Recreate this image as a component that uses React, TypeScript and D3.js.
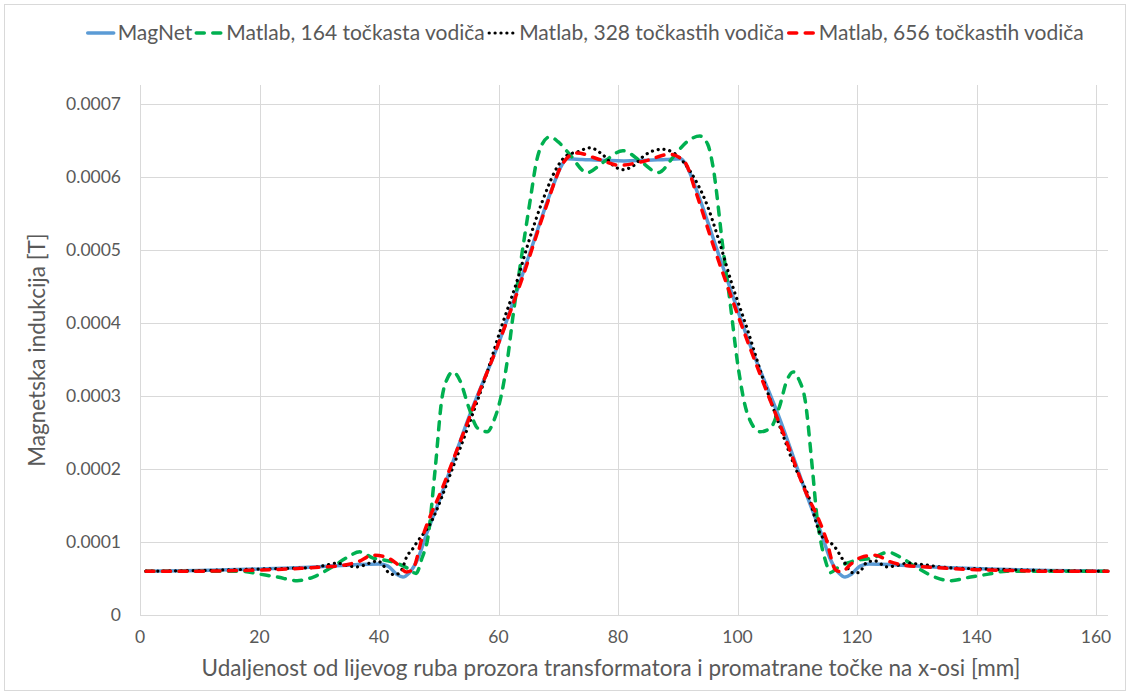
import { useMemo } from 'react'
import * as d3 from 'd3'

// chart values (y in tesla)
const xTicks = [0, 20, 40, 60, 80, 100, 120, 140, 160]
const yTicks = [0, 0.0001, 0.0002, 0.0003, 0.0004, 0.0005, 0.0006, 0.0007]
const yTickLabels = ['0', '0.0001', '0.0002', '0.0003', '0.0004', '0.0005', '0.0006', '0.0007']

const magnetX = [1, 10, 20, 30, 36, 40, 41.5, 43, 44, 45, 46.5, 48, 50, 55, 60, 65, 69, 70.5, 71.5, 74, 81, 88, 90.5, 91.5, 93, 97, 102, 107, 112, 114, 115.5, 117, 118, 119, 120.5, 122, 126, 132, 142, 152, 162]
const magnetY = [0.6, 0.61, 0.63, 0.66, 0.69, 0.7, 0.67, 0.555, 0.52, 0.57, 0.77, 1.12, 1.55, 2.7, 3.72, 4.9, 5.85, 6.15, 6.25, 6.24, 6.22, 6.24, 6.25, 6.15, 5.85, 4.9, 3.72, 2.7, 1.55, 1.12, 0.77, 0.57, 0.52, 0.555, 0.67, 0.7, 0.69, 0.66, 0.63, 0.61, 0.6]

const m164X = [1, 10, 17, 20, 23, 26.3, 29, 32, 34.5, 36.8, 39, 41, 43, 44.8, 46.2, 47.2, 48.2, 49.4, 50.5, 51.5, 52.4, 53.5, 55, 56.5, 58.1, 59.3, 60.3, 61.5, 62.4, 63.6, 65.3, 66.4, 67.3, 68.6, 70, 72, 74.8, 77.5, 80.8, 84, 86.7, 89.5, 91.5, 93.7, 95, 95.9, 97.6, 98.7, 100.1, 101.6, 103.8, 105.5, 107, 108.3, 109.3, 110.3, 111.3, 112.5, 113.3, 114, 114.8, 115.5, 116.8, 118.3, 120, 122.5, 125.2, 127.5, 130, 133, 135.5, 139, 142, 145, 152, 162]
const m164Y = [0.6, 0.6, 0.6, 0.56, 0.52, 0.47, 0.52, 0.65, 0.78, 0.865, 0.78, 0.75, 0.71, 0.64, 0.57, 0.78, 1.07, 2.0, 2.95, 3.25, 3.33, 3.22, 2.85, 2.56, 2.51, 2.68, 2.95, 3.5, 4.08, 4.77, 5.68, 6.23, 6.45, 6.55, 6.48, 6.3, 6.06, 6.2, 6.36, 6.2, 6.06, 6.3, 6.48, 6.56, 6.45, 6.14, 5.0, 4.32, 3.4, 2.77, 2.51, 2.56, 2.85, 3.22, 3.33, 3.22, 2.95, 2.03, 1.34, 0.98, 0.72, 0.58, 0.65, 0.71, 0.75, 0.78, 0.86, 0.78, 0.65, 0.52, 0.47, 0.52, 0.56, 0.6, 0.6, 0.6]

const m328X = [1, 10, 20, 25, 29, 31, 33, 35, 36.3, 38.8, 39.8, 40.7, 41.5, 42.7, 43.8, 44.7, 45.5, 46.3, 48.5, 52.4, 55, 58, 60.3, 63, 65, 67.4, 70, 71.5, 73.1, 75.3, 77.5, 79.5, 80.8, 82.5, 84.5, 87.4, 89.5, 91, 93.2, 94.6, 97, 99, 101.7, 104, 107, 109.6, 112, 113.8, 116.3, 117.7, 119.2, 120.2, 121.8, 123, 125, 126.8, 128.5, 131, 135, 142, 152, 162]
const m328Y = [0.6, 0.61, 0.63, 0.64, 0.65, 0.68, 0.71, 0.67, 0.66, 0.72, 0.74, 0.68, 0.59, 0.55, 0.62, 0.81, 0.89, 0.99, 1.24, 2.03, 2.6, 3.3, 3.9, 4.55, 5.1, 5.68, 6.16, 6.3, 6.34, 6.4, 6.3, 6.14, 6.1, 6.15, 6.3, 6.38, 6.32, 6.2, 5.92, 5.68, 5.1, 4.55, 3.9, 3.3, 2.6, 2.03, 1.6, 1.12, 0.93, 0.75, 0.58, 0.58, 0.73, 0.74, 0.66, 0.68, 0.71, 0.69, 0.65, 0.63, 0.61, 0.6]

const m656X = [1, 10, 17, 22, 27, 31, 34, 36.5, 39, 41.3, 43, 44.6, 45.6, 47.2, 48.7, 50, 53.6, 57, 60, 64, 68, 70.5, 73.1, 76.5, 80.3, 84.5, 88.7, 91.2, 93, 96, 100, 104.7, 108, 111.7, 113.2, 114.8, 116.4, 117.4, 119, 120.7, 123, 125.5, 128, 131, 135, 140, 145, 152, 162]
const m656Y = [0.6, 0.6, 0.61, 0.62, 0.64, 0.66, 0.68, 0.73, 0.82, 0.79, 0.7, 0.59, 0.62, 1.05, 1.38, 1.62, 2.38, 3.1, 3.72, 4.62, 5.6, 6.15, 6.33, 6.25, 6.16, 6.22, 6.31, 6.2, 5.8, 5.05, 4.12, 3.1, 2.42, 1.63, 1.38, 1.05, 0.62, 0.59, 0.7, 0.79, 0.82, 0.73, 0.68, 0.66, 0.64, 0.62, 0.61, 0.6, 0.6]

const seriesNames = ['MagNet', 'Matlab, 164 točkasta vodiča', 'Matlab, 328 točkastih vodiča', 'Matlab, 656 točkastih vodiča']

const W = 1130
const H = 695
const plot = { left: 140, right: 1108, top: 85, bottom: 615 }
const FONT = 'Lato, "Open Sans", sans-serif'
const LEGEND_SIZE = 21

const styles = [
  { color: '#5b9bd5', width: 3.5, dash: '', cap: 'round' },
  { color: '#00b050', width: 3.5, dash: '8 8.5', cap: 'round' },
  { color: '#000000', width: 3.2, dash: '0.1 5.8', cap: 'round' },
  { color: '#ff0000', width: 3.5, dash: '8 8.5', cap: 'round' },
]

const App = () => {
  const x = d3.scaleLinear().domain([0, 162]).range([plot.left, plot.right])
  const y = d3.scaleLinear().domain([0, 0.000726]).range([plot.bottom, plot.top])

  const line = d3
    .line<[number, number]>()
    .x((d) => x(d[0]))
    .y((d) => y(d[1] * 1e-4))
    .curve(d3.curveMonotoneX)

  const series = [
    d3.zip(magnetX, magnetY),
    d3.zip(m164X, m164Y),
    d3.zip(m328X, m328Y),
    d3.zip(m656X, m656Y),
  ] as [number, number][][]

  // legend layout measured with a canvas
  const legend = useMemo(() => {
    const ctx = document.createElement('canvas').getContext('2d')!
    ctx.font = `${LEGEND_SIZE}px ${FONT}`
    const sample = 30
    const widths = seriesNames.map((n) => ctx.measureText(n).width)
    const total = widths.reduce((a, w) => a + sample + 2 + w + 2, 0)
    let cx = 586 - total / 2
    return widths.map((w) => {
      const item = { x: cx, tx: cx + sample + 2 }
      cx += sample + 2 + w + 2
      return item
    })
  }, [])

  return (
    <svg width={W} height={H} style={{ position: 'absolute', left: 0, top: 0, background: '#fff' }}>
      <rect x={4.5} y={4.5} width={W - 9} height={H - 9} fill="#fff" stroke="#d9d9d9" />

      {yTicks.map((t) => (
        <line key={'h' + t} x1={plot.left} x2={plot.right} y1={Math.round(y(t)) + 0.5} y2={Math.round(y(t)) + 0.5} stroke="#d9d9d9" />
      ))}
      {xTicks.map((t) => (
        <line key={'v' + t} x1={Math.round(x(t)) + 0.5} x2={Math.round(x(t)) + 0.5} y1={plot.top} y2={plot.bottom} stroke="#d9d9d9" />
      ))}

      {yTicks.map((t, i) => (
        <text key={'yl' + t} x={121} y={y(t)} dy="0.35em" textAnchor="end" fontFamily={FONT} fontSize={17.5} fill="#595959">
          {yTickLabels[i]}
        </text>
      ))}
      {xTicks.map((t) => (
        <text key={'xl' + t} x={x(t)} y={643} textAnchor="middle" fontFamily={FONT} fontSize={17.5} fill="#595959">
          {t}
        </text>
      ))}

      <text x={611} y={676} textAnchor="middle" fontFamily={FONT} fontSize={22.5} fill="#595959">
        Udaljenost od lijevog ruba prozora transformatora i promatrane točke na x-osi [mm]
      </text>
      <text transform={`translate(45,${(plot.top + plot.bottom) / 2}) rotate(-90)`} textAnchor="middle" fontFamily={FONT} fontSize={22.5} fill="#595959">
        Magnetska indukcija [T]
      </text>

      {series.map((s, i) => (
        <path
          key={'s' + i}
          d={line(s) ?? ''}
          fill="none"
          stroke={styles[i].color}
          strokeWidth={styles[i].width}
          strokeDasharray={styles[i].dash}
          strokeLinecap={styles[i].cap as any}
          strokeLinejoin="round"
        />
      ))}

      {legend.map((l, i) => (
        <g key={'lg' + i}>
          <line
            x1={l.x + 2}
            x2={l.x + 28}
            y1={33}
            y2={33}
            stroke={styles[i].color}
            strokeWidth={styles[i].width}
            strokeDasharray={styles[i].dash}
            strokeLinecap={styles[i].cap as any}
          />
          <text x={l.tx} y={33} dy="0.35em" fontFamily={FONT} fontSize={LEGEND_SIZE} fill="#595959">
            {seriesNames[i]}
          </text>
        </g>
      ))}
    </svg>
  )
}

export default App
